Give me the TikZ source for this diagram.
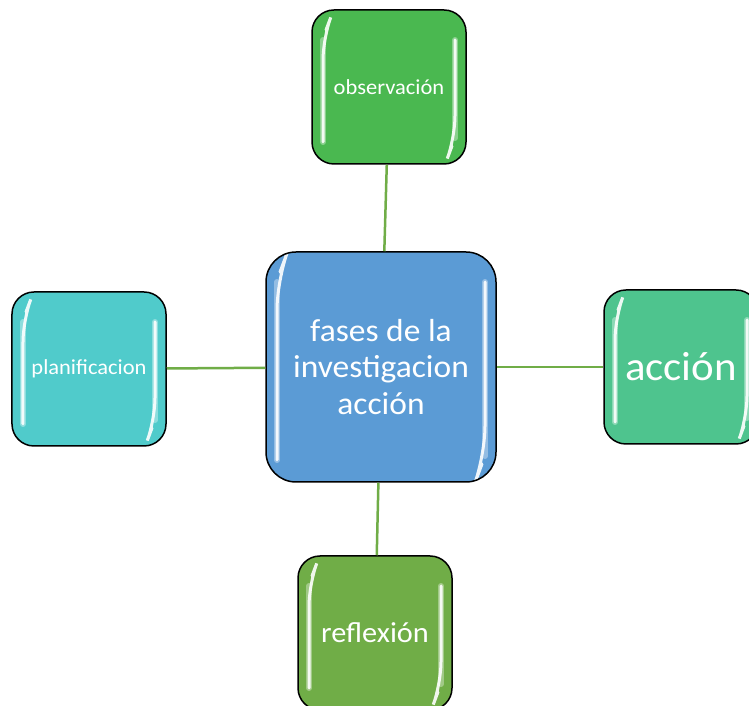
\documentclass[tikz,border=0pt]{standalone}
\usepackage{fontspec}
\setmainfont{Carlito}[FakeStretch=1.05]
\definecolor{centerfill}{RGB}{91,155,213}
\definecolor{obsfill}{RGB}{74,184,80}
\definecolor{accfill}{RGB}{78,196,142}
\definecolor{reffill}{RGB}{112,173,71}
\definecolor{planfill}{RGB}{80,203,203}
\definecolor{edgecol}{RGB}{112,173,71}
\tikzset{
  phase/.style={draw=black, line width=1.5bp, rounded corners=22bp,
    minimum width=154bp, minimum height=154bp, inner sep=0pt,
    text=white, align=center,
    path picture={
      \draw[white, opacity=0.35, line width=6bp, line cap=round]
        ([xshift=11bp,yshift=-30bp]path picture bounding box.north west)
        -- ([xshift=11bp,yshift=22bp]path picture bounding box.south west);
      \draw[white, opacity=0.9, line width=3bp, line cap=round]
        ([xshift=14bp,yshift=-20bp]path picture bounding box.north west)
        -- ([xshift=11bp,yshift=-28bp]path picture bounding box.north west)
        -- ([xshift=11bp,yshift=22bp]path picture bounding box.south west);
      \draw[white, opacity=0.35, line width=6bp, line cap=round]
        ([xshift=-11bp,yshift=-30bp]path picture bounding box.north east)
        -- ([xshift=-11bp,yshift=26bp]path picture bounding box.south east);
      \draw[white, opacity=0.9, line width=3bp, line cap=round]
        ([xshift=-11bp,yshift=-30bp]path picture bounding box.north east)
        -- ([xshift=-11bp,yshift=26bp]path picture bounding box.south east)
        -- ([xshift=-14bp,yshift=18bp]path picture bounding box.south east);
    }},
  hub/.style={phase, rounded corners=30bp,
    minimum width=230bp, minimum height=230bp},
  link/.style={draw=edgecol, line width=2.5bp},
}
\begin{document}
\begin{tikzpicture}[x=1bp,y=1bp]
  \clip (0,0) rectangle (749,706);
  \fill[white] (0,0) rectangle (749,706);
%%
  % Node: center
  \node[hub, fill=centerfill, font=\fontsize{32}{37}\selectfont] (center) at (381,339)
    {fases de la\\investigacion\\acción};
  % Node: observacion
  \node[phase, fill=obsfill, font=\fontsize{21.5}{25}\selectfont] (obs) at (389,619) {observación};
  % Node: accion
  \node[phase, fill=accfill, font=\fontsize{41}{48}\selectfont] (acc) at (681,339) {acción};
  % Node: reflexion
  \node[phase, fill=reffill, font=\fontsize{29}{34}\selectfont] (refl) at (375,73) {reflexión};
  % Node: planificacion
  \node[phase, fill=planfill, font=\fontsize{21.5}{25}\selectfont] (plan) at (89,337) {planificacion};
%
  % Edge: obs -- center
  \draw[link] (obs) -- (center);
  % Edge: plan -- center
  \draw[link] (plan) -- (center);
  % Edge: center -- acc
  \draw[link] (center) -- (acc);
  % Edge: center -- refl
  \draw[link] (center) -- (refl);
%
\end{tikzpicture}
\end{document}
